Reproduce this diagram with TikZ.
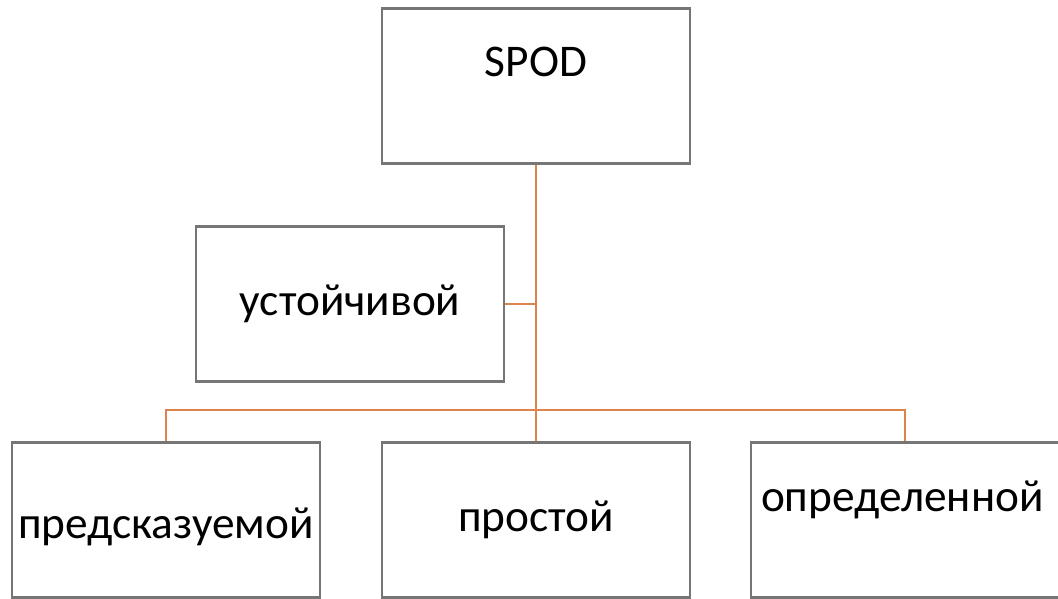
\documentclass[tikz,border=0pt]{standalone}
\usepackage{fontspec}
\setmainfont{Carlito}
\usetikzlibrary{positioning}

\tikzset{every picture/.style={line width=0.75pt}}
\tikzset{
  box/.style={draw={rgb,255:red,118;green,118;blue,118}, line width=2pt, fill=white,
    minimum width=231pt, minimum height=116pt, inner sep=0pt,
    font=\fontsize{34}{40}\selectfont},
  link/.style={draw={rgb,255:red,222;green,130;blue,78}, line width=1.4pt}
}

\begin{document}
\begin{tikzpicture}[x=0.75pt,y=0.75pt,yscale=-1,xscale=1]
\useasboundingbox (0,0) rectangle (1058,599);

%Boxes
\node[box, label={[font=\fontsize{34}{40}\selectfont, yshift=18pt]center:SPOD}] (spod) at (536,86) {};
\node[box] (ust) at (350,304) {устойчивой};
\node[box, label={[font=\fontsize{34}{40}\selectfont, yshift=-5pt]center:предсказуемой}] (pred) at (166,520) {};
\node[box] (prost) at (536,520) {простой};
\node[box, label={[font=\fontsize{34}{40}\selectfont, xshift=-2pt, yshift=15pt]center:определенной}] (opr) at (905,520) {};

%Connectors
\draw[link] (spod.south) -- (prost.north);
\draw[link] (ust.east) -- (ust.east -| spod.south);
\draw[link] (pred.north) -- ++(0,-31) -| (opr.north);

\end{tikzpicture}
\end{document}
